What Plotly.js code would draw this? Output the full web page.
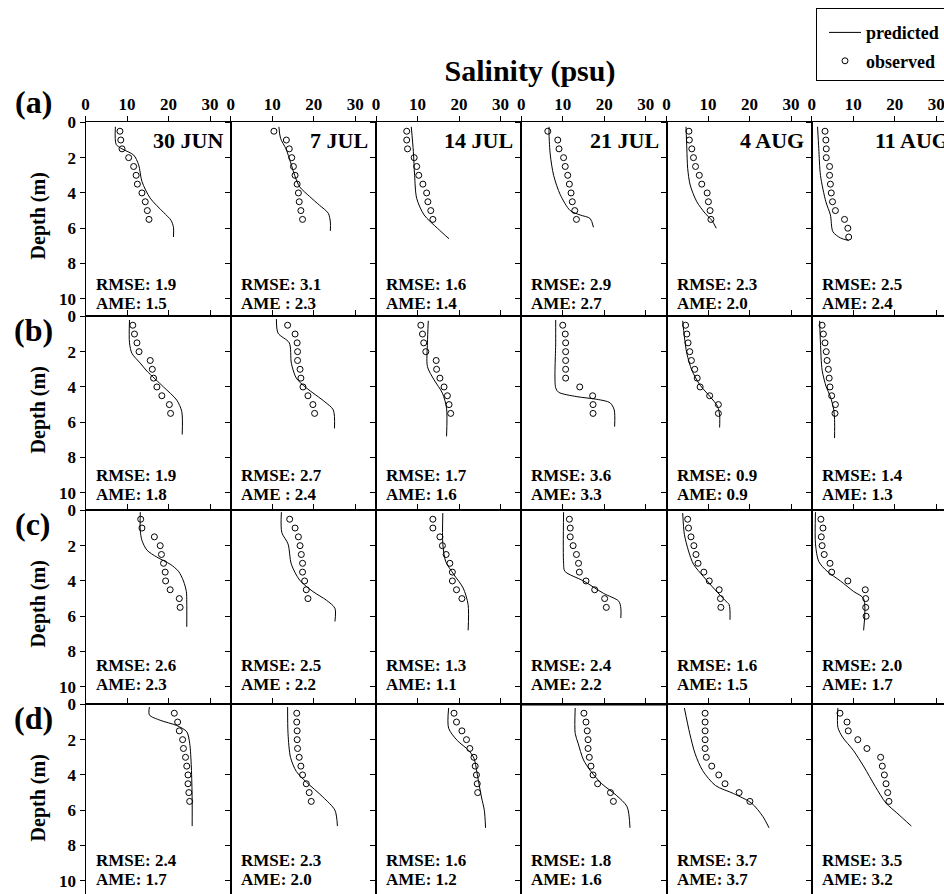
<!DOCTYPE html>
<html>
<head>
<meta charset="utf-8">
<script src="https://cdn.plot.ly/plotly-3.0.1.min.js"></script>
<style>
  html, body { margin: 0; padding: 0; overflow: hidden; background: #fff; width: 944px; height: 894px; }
  #chart { width: 960px; height: 900px; }
</style>
</head>
<body>
<div id="chart"></div>
<script>
// ---- labels ----
const dates = ['30 JUN', '7 JUL', '14 JUL', '21 JUL', '4 AUG', '11 AUG'];
const rowTags = ['(a)', '(b)', '(c)', '(d)'];
const xTicks = [0, 10, 20, 30];
const yTicks = [0, 2, 4, 6, 8, 10];

// ---- error statistics printed in each panel ----
const rmseA = ['1.9', '3.1', '1.6', '2.9', '2.3', '2.5'];
const ameA  = ['1.5', '2.3', '1.4', '2.7', '2.0', '2.4'];
const rmseB = ['1.9', '2.7', '1.7', '3.6', '0.9', '1.4'];
const ameB  = ['1.8', '2.4', '1.6', '3.3', '0.9', '1.3'];
const rmseC = ['2.6', '2.5', '1.3', '2.4', '1.6', '2.0'];
const ameC  = ['2.3', '2.2', '1.1', '2.2', '1.5', '1.7'];
const rmseD = ['2.4', '2.3', '1.6', '1.8', '3.7', '3.5'];
const ameD  = ['1.7', '2.0', '1.2', '1.6', '3.7', '3.2'];
// the 7 JUL column writes "AME :" in rows a-c
const ameSep = [
  [': ', ' : ', ': ', ': ', ': ', ': '],
  [': ', ' : ', ': ', ': ', ': ', ': '],
  [': ', ' : ', ': ', ': ', ': ', ': '],
  [': ', ': ', ': ', ': ', ': ', ': ']
];

// ---- observed sampling depths (m) ----
const D50 = [0.5, 1.0, 1.5, 2.0, 2.5, 3.0, 3.5, 4.0, 4.5, 5.0];
const D55 = [0.5, 1.0, 1.5, 2.0, 2.5, 3.0, 3.5, 4.0, 4.5, 5.0, 5.5];
const D60 = [0.5, 1.0, 1.5, 2.0, 2.5, 3.0, 3.5, 4.0, 4.5, 5.0, 5.5, 6.0];
const D65 = [0.5, 1.0, 1.5, 2.0, 2.5, 3.0, 3.5, 4.0, 4.5, 5.0, 5.5, 6.0, 6.5];

// ---- row (a) ----
const obsDepthA = [D55, D55, D55, D55, D55, D65];
const obsSalA = [
  [8.3, 8.5, 8.8, 10.4, 11.6, 12.2, 12.5, 13.6, 14.4, 14.9, 15.3],
  [10.4, 13.4, 14.1, 14.7, 15.1, 15.5, 16.0, 16.3, 16.5, 16.9, 17.3],
  [7.4, 7.4, 7.6, 9.2, 9.8, 10.3, 11.3, 12.2, 12.5, 13.2, 13.7],
  [6.4, 8.8, 9.1, 10.2, 10.6, 11.2, 11.6, 12.0, 12.3, 12.9, 13.3],
  [5.4, 5.5, 6.1, 6.5, 7.0, 7.9, 8.5, 9.8, 10.1, 10.5, 10.7],
  [3.2, 3.4, 3.5, 3.5, 4.3, 4.3, 4.5, 4.7, 5.0, 5.7, 7.9, 8.7, 8.9]
];
const predDepthA = [
  [0.25, 1.25, 1.5, 1.85, 2.4, 3.35, 4.3, 5.1, 5.55, 5.95, 6.5],
  [0.25, 0.9, 1.5, 2.25, 3.0, 3.65, 4.2, 4.7, 5.15, 5.65, 6.15],
  [0.25, 1.65, 3.0, 4.3, 5.25, 6.0, 6.6],
  [0.25, 0.7, 1.85, 3.0, 4.1, 5.0, 5.25, 5.45, 5.95],
  [0.25, 1.5, 2.6, 3.55, 4.5, 5.15, 5.55, 6.0],
  [0.25, 1.5, 3.0, 4.5, 5.25, 6.2, 6.55, 6.7]
];
const predSalA = [
  [7.2, 7.4, 8.8, 11.6, 12.8, 13.6, 15.6, 18.8, 20.6, 21.2, 21.2],
  [11.6, 12.0, 13.3, 14.4, 15.4, 16.6, 19.0, 21.4, 23.5, 24.0, 24.0],
  [8.5, 9.0, 9.3, 9.8, 11.6, 14.8, 17.6],
  [6.7, 6.7, 7.0, 7.8, 9.4, 11.8, 14.2, 16.6, 17.4],
  [4.7, 4.9, 5.1, 5.7, 7.3, 9.3, 10.9, 12.0],
  [1.4, 1.7, 2.1, 3.4, 4.5, 5.1, 6.9, 8.9]
];

// ---- row (b) ----
const obsDepthB = [D55, D55, D55, D55, D55, D55];
const obsSalB = [
  [11.4, 11.8, 12.4, 12.9, 15.6, 16.1, 16.4, 17.2, 18.4, 20.2, 20.5],
  [13.7, 15.5, 16.0, 16.1, 16.1, 16.7, 16.9, 17.4, 18.6, 19.8, 20.2],
  [10.8, 11.2, 11.5, 12.0, 14.5, 14.6, 15.4, 16.4, 17.2, 17.6, 18.0],
  [10.0, 10.6, 10.7, 10.7, 10.7, 10.7, 10.7, 14.1, 17.2, 17.3, 17.3],
  [4.6, 4.9, 5.2, 5.6, 6.0, 6.8, 7.4, 8.1, 10.4, 12.5, 12.5],
  [2.5, 2.8, 3.2, 3.5, 3.7, 4.0, 4.2, 4.4, 4.8, 5.7, 5.6]
];
const predDepthB = [
  [0.2, 1.5, 2.1, 2.65, 3.1, 4.0, 4.75, 5.4, 6.7],
  [0.15, 0.95, 1.5, 2.65, 3.5, 4.05, 4.85, 5.3, 6.35],
  [0.25, 1.5, 2.85, 3.6, 4.35, 5.2, 6.8],
  [0.2, 1.5, 4.05, 4.3, 4.55, 4.7, 4.9, 5.3, 6.25],
  [0.25, 1.15, 2.1, 3.05, 3.9, 4.55, 5.1, 5.6, 6.3],
  [0.25, 1.5, 3.05, 4.0, 4.55, 5.3, 5.85, 6.9]
];
const predSalB = [
  [10.6, 10.6, 11.2, 13.2, 14.8, 18.8, 22.0, 23.2, 23.3],
  [11.0, 11.4, 14.1, 14.6, 15.8, 18.2, 22.7, 24.7, 25.0],
  [12.6, 12.4, 12.4, 14.0, 16.0, 17.0, 17.0],
  [8.3, 8.3, 8.3, 9.0, 13.4, 18.2, 21.4, 22.4, 22.5],
  [3.9, 4.3, 4.9, 6.1, 8.1, 10.5, 12.3, 12.8, 12.8],
  [1.9, 2.1, 2.5, 3.5, 4.5, 5.3, 5.5, 5.5]
];

// ---- row (c) ----
const obsDepthC = [D55, D50, D50, D55, D55, D60];
const obsSalC = [
  [13.3, 13.6, 16.6, 18.0, 18.3, 18.8, 19.2, 19.3, 20.4, 22.6, 22.8],
  [14.2, 15.5, 16.3, 16.7, 17.0, 17.3, 17.3, 17.8, 18.2, 18.6],
  [13.7, 13.7, 15.4, 16.0, 16.9, 17.8, 18.4, 18.4, 19.4, 20.7],
  [11.6, 11.8, 11.8, 12.5, 13.3, 13.8, 14.0, 15.6, 17.7, 20.1, 20.5],
  [5.1, 5.3, 5.9, 6.6, 7.1, 7.6, 9.0, 10.3, 12.7, 13.0, 13.1],
  [2.2, 2.7, 2.3, 2.5, 3.0, 4.4, 4.8, 8.7, 12.9, 13.0, 13.0, 13.1]
];
const predDepthC = [
  [0.1, 1.15, 1.7, 2.25, 2.65, 3.05, 3.45, 4.0, 4.6, 5.2, 6.6],
  [0.1, 1.25, 1.9, 3.05, 3.95, 4.6, 5.1, 5.55, 6.3],
  [0.15, 1.9, 2.9, 3.65, 4.4, 5.35, 6.8],
  [0.1, 3.0, 3.45, 4.0, 4.7, 5.15, 5.55, 6.1],
  [0.15, 1.35, 2.3, 3.05, 3.75, 4.5, 5.1, 5.35, 6.2],
  [0.1, 1.9, 2.9, 3.45, 4.0, 4.6, 5.0, 6.8]
];
const predSalC = [
  [13.2, 13.2, 13.6, 14.8, 17.2, 20.4, 22.4, 23.6, 24.3, 24.4, 24.4],
  [12.2, 12.3, 13.8, 14.6, 16.6, 19.8, 23.1, 25.1, 25.1],
  [16.1, 16.1, 16.8, 18.8, 21.0, 22.2, 22.2],
  [10.2, 10.2, 10.5, 15.0, 19.8, 23.5, 24.0, 24.0],
  [3.9, 4.3, 5.3, 6.5, 8.9, 11.7, 14.1, 15.1, 15.3],
  [0.9, 0.9, 1.7, 3.7, 6.9, 10.1, 12.5, 12.5]
];

// ---- row (d) ----
const obsDepthD = [D55, D55, D50, D55, D55, D55];
const obsSalD = [
  [21.4, 22.2, 22.6, 23.4, 23.6, 24.1, 24.4, 24.7, 24.7, 24.9, 25.1],
  [15.9, 15.9, 16.0, 16.0, 16.1, 16.5, 16.9, 17.3, 18.2, 18.9, 19.4],
  [18.8, 19.4, 20.7, 21.8, 22.6, 23.6, 23.9, 24.2, 24.4, 24.5],
  [15.1, 15.6, 15.9, 16.1, 16.1, 16.4, 16.8, 17.3, 18.4, 21.5, 22.2],
  [9.3, 9.3, 9.3, 9.3, 9.3, 9.6, 10.9, 12.6, 14.1, 17.5, 20.1],
  [6.8, 8.5, 8.8, 11.1, 13.3, 16.6, 17.0, 17.5, 17.9, 18.3, 18.6]
];
const predDepthD = [
  [0.15, 0.6, 0.9, 1.2, 1.55, 2.2, 3.55, 5.4, 6.9],
  [0.15, 1.65, 3.0, 3.8, 4.4, 5.25, 6.0, 6.9],
  [0.2, 1.35, 2.05, 2.6, 3.05, 4.1, 5.25, 6.0, 7.0],
  [0.2, 1.65, 2.2, 3.15, 3.8, 4.5, 5.15, 5.8, 7.0],
  [0.2, 1.65, 2.8, 3.75, 4.6, 5.05, 5.6, 6.35, 7.0],
  [0.2, 1.3, 1.85, 2.6, 3.55, 4.65, 5.6, 6.15, 6.9]
];
const predSalD = [
  [15.4, 15.4, 18.0, 22.0, 24.4, 25.1, 25.5, 25.7, 25.7],
  [13.7, 13.8, 14.4, 15.8, 18.2, 22.2, 25.1, 25.7],
  [17.5, 17.5, 19.6, 22.3, 23.6, 24.5, 25.4, 26.1, 26.4],
  [13.0, 13.0, 13.7, 15.0, 16.8, 19.4, 22.9, 25.5, 26.2],
  [4.3, 5.6, 6.9, 8.7, 11.8, 16.1, 20.5, 23.2, 24.7],
  [6.3, 6.3, 7.4, 10.0, 12.6, 15.3, 17.9, 20.5, 24.0]
];

const rowsData = [
  { obsD: obsDepthA, obsS: obsSalA, prdD: predDepthA, prdS: predSalA, rmse: rmseA, ame: ameA },
  { obsD: obsDepthB, obsS: obsSalB, prdD: predDepthB, prdS: predSalB, rmse: rmseB, ame: ameB },
  { obsD: obsDepthC, obsS: obsSalC, prdD: predDepthC, prdS: predSalC, rmse: rmseC, ame: ameC },
  { obsD: obsDepthD, obsS: obsSalD, prdD: predDepthD, prdS: predSalD, rmse: rmseD, ame: ameD }
];

// ---- figure geometry (pixels) ----
const FW = 960, FH = 900;
const COL0 = 85.5, COLW = 145.25;
const ROW0 = 122.4, ROWH = 194;
const FONT = "'Liberation Serif', 'Times New Roman', serif";
const px = v => v / FW;
const py = v => 1 - v / FH;
const rmseOff = [162, 159.5, 155, 156.5];
const ameOff  = [181, 178.5, 174, 175.5];

const traces = [];
const layout = {
  width: FW, height: FH,
  margin: { l: 0, r: 0, t: 0, b: 0 },
  paper_bgcolor: '#fff', plot_bgcolor: '#fff',
  font: { family: FONT, color: '#000' },
  showlegend: true,
  legend: {
    x: px(816), y: py(8), xanchor: 'left', yanchor: 'top',
    bordercolor: '#000', borderwidth: 1, bgcolor: '#fff',
    font: { family: FONT, size: 18, weight: 'bold', color: '#000' },
    title: { text: ' ', side: 'top', font: { size: 4 } },
    tracegroupgap: 2, indentation: 7, itemwidth: 32,
    entrywidth: 150, entrywidthmode: 'pixels'
  },
  title: {
    text: 'Salinity (psu)',
    font: { family: FONT, size: 30, weight: 'bold', color: '#000' },
    x: px(530), xref: 'paper', xanchor: 'center',
    y: py(70), yref: 'container', yanchor: 'middle'
  },
  annotations: [],
  shapes: []
};

for (let r = 0; r < 4; r++) {
  const rd = rowsData[r];
  const top = ROW0 + r * ROWH;
  for (let c = 0; c < 6; c++) {
    const n = r * 6 + c + 1;
    const sfx = n === 1 ? '' : String(n);
    const left = COL0 + c * COLW;
    const first = n === 1;

    traces.push({
      type: 'scatter', mode: 'lines',
      x: rd.prdS[c], y: rd.prdD[c],
      xaxis: 'x' + sfx, yaxis: 'y' + sfx,
      line: { color: '#000', width: 1, shape: 'spline', smoothing: 0.8 },
      name: 'predicted', legendgroup: 'predicted', showlegend: first,
      hoverinfo: 'skip'
    });
    traces.push({
      type: 'scatter', mode: 'markers',
      x: rd.obsS[c], y: rd.obsD[c],
      xaxis: 'x' + sfx, yaxis: 'y' + sfx,
      marker: { symbol: 'circle-open', size: 6, color: '#000', line: { width: 1, color: '#000' } },
      name: 'observed', legendgroup: 'observed', showlegend: first,
      hoverinfo: 'skip'
    });

    layout['xaxis' + sfx] = {
      domain: [px(left), px(left + COLW)],
      range: [0, 35], side: 'top', anchor: 'y' + sfx,
      showline: true, mirror: true, linecolor: '#000', linewidth: 1,
      ticks: 'outside', ticklen: 5, tickwidth: 1, tickcolor: '#000',
      tickvals: xTicks, showticklabels: r === 0,
      tickfont: { family: FONT, size: 17, weight: 'bold', color: '#000' },
      showgrid: false, zeroline: false, fixedrange: true
    };
    layout['yaxis' + sfx] = {
      domain: [py(top + ROWH), py(top)],
      range: [11, 0], side: 'left', anchor: 'x' + sfx,
      showline: true, mirror: true, linecolor: '#000', linewidth: 1,
      ticks: 'outside', ticklen: 5, tickwidth: 1, tickcolor: '#000',
      tickvals: yTicks, showticklabels: c === 0,
      tickfont: { family: FONT, size: 17, weight: 'bold', color: '#000' },
      showgrid: false, zeroline: false, fixedrange: true
    };

    // date label in the first row
    if (r === 0) {
      layout.annotations.push({
        text: dates[c], xref: 'paper', yref: 'paper',
        x: px(left + COLW - 6), y: py(top + 18),
        xanchor: 'right', yanchor: 'middle', showarrow: false,
        font: { family: FONT, size: 22, weight: 'bold', color: '#000' }
      });
    }
    // error statistics
    layout.annotations.push({
      text: 'RMSE: ' + rd.rmse[c], xref: 'paper', yref: 'paper',
      x: px(left + 8), y: py(top + rmseOff[r]),
      xanchor: 'left', yanchor: 'middle', showarrow: false,
      font: { family: FONT, size: 17, weight: 'bold', color: '#000' }
    });
    layout.annotations.push({
      text: 'AME' + ameSep[r][c] + rd.ame[c], xref: 'paper', yref: 'paper',
      x: px(left + 8), y: py(top + ameOff[r]),
      xanchor: 'left', yanchor: 'middle', showarrow: false,
      font: { family: FONT, size: 17, weight: 'bold', color: '#000' }
    });
  }

  // row tag and depth label
  layout.annotations.push({
    text: rowTags[r], xref: 'paper', yref: 'paper',
    x: px(33), y: py(r === 0 ? 102 : top + 14),
    xanchor: 'center', yanchor: 'middle', showarrow: false,
    font: { family: FONT, size: 32, weight: 'bold', color: '#000' }
  });
  layout.annotations.push({
    text: 'Depth (m)', textangle: -90, xref: 'paper', yref: 'paper',
    x: px(38), y: py(top + 94),
    xanchor: 'center', yanchor: 'middle', showarrow: false,
    font: { family: FONT, size: 20, weight: 'bold', color: '#000' }
  });
}

// heavier top edge on the 21 JUL panel of row (d)
layout.shapes.push({
  type: 'line', xref: 'paper', yref: 'paper',
  x0: px(COL0 + 3 * COLW), x1: px(COL0 + 4 * COLW),
  y0: py(ROW0 + 3 * ROWH), y1: py(ROW0 + 3 * ROWH),
  line: { color: '#000', width: 2 }
});

Plotly.newPlot('chart', traces, layout, { staticPlot: true, displayModeBar: false });
</script>
</body>
</html>
